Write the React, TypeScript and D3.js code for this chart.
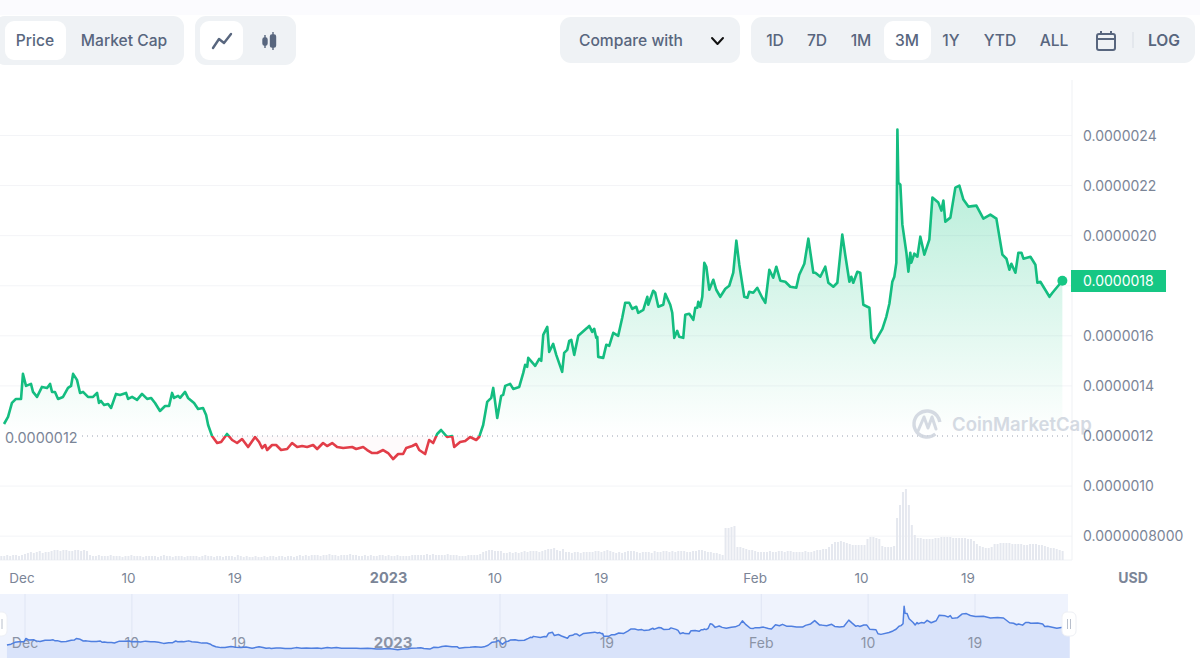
import React from "react";
import * as d3 from "d3";

// Price in units of 1e-7 USD; days counted from 1 Dec 2022
const priceDays = [
-1.52,-1.18,-0.85,-0.51,-0.08,0.08,0.34,0.76,0.93,1.27,1.69,2.12,2.37,2.54,2.79,3.05,3.47,3.89,4.15,4.32,4.65,4.91,5.16,5.58,6.01,6.35,6.51,6.68,6.94,7.28,7.53,7.95,8.29,8.8,8.97,9.31,9.73,10.15,10.58,10.91,11.25,11.67,12.1,12.44,12.69,12.86,13.2,13.37,13.79,14.04,14.55,14.89,15.31,15.57,15.74,16.07,16.5,16.84,17.34,17.77,18.19,18.61,19.12,19.71,20.05,20.3,20.56,20.73,21.15,21.49,21.91,22.42,22.84,23.27,23.69,24.11,24.62,24.96,25.46,25.8,26.23,26.65,27.16,27.92,28.26,28.85,29.19,29.61,30.03,30.54,30.96,31.39,31.81,32.23,32.49,33.0,33.33,33.59,34.09,34.43,34.77,35.11,35.44,35.95,36.38,36.55,37.05,37.48,37.9,38.41,38.66,39.0,39.34,39.68,39.85,40.19,40.52,40.69,40.86,41.28,41.54,42.05,42.39,42.55,42.72,42.81,43.4,43.74,43.91,44.08,44.42,44.58,44.92,45.18,45.68,45.85,46.11,46.28,46.45,46.7,47.04,47.8,47.97,48.22,48.39,48.56,48.65,48.73,49.15,49.41,49.66,50.0,50.42,50.76,51.01,51.35,51.61,51.95,52.11,52.54,52.88,52.96,53.38,53.55,53.81,54.23,54.4,54.82,54.99,55.16,55.41,55.58,55.92,56.09,56.43,56.77,56.94,57.11,57.19,57.36,57.53,57.7,57.87,58.12,58.46,58.71,59.05,59.48,59.81,60.15,60.41,60.66,61.08,61.34,61.5,61.84,62.18,62.6,62.86,63.2,63.53,63.79,64.13,64.55,64.97,65.48,65.73,66.16,66.5,66.92,67.09,67.51,67.93,68.19,68.61,68.95,69.37,69.63,69.97,70.13,70.3,70.64,70.89,71.15,71.66,71.83,72.08,72.76,73.09,73.35,73.6,73.77,73.94,74.03,74.11,74.28,74.45,74.79,74.96,75.12,75.21,75.46,75.72,75.97,76.31,76.73,76.99,77.49,77.75,77.92,78.08,78.51,78.93,79.27,79.61,80.03,80.71,81.3,81.89,82.4,82.91,83.25,83.5,83.67,84.01,84.26,84.52,84.69,85.28,85.7,85.87,86.12,86.89,87.14,87.98];
const priceValues = [
12.48,12.76,13.32,13.48,13.48,14.48,14.0,14.08,13.76,13.56,13.96,13.92,14.08,13.76,13.76,13.48,13.56,13.92,14.0,14.48,14.24,13.72,13.76,13.56,13.56,13.72,13.32,13.4,13.24,13.28,13.12,13.68,13.64,13.72,13.48,13.56,13.44,13.68,13.48,13.52,13.32,13.0,13.2,13.2,13.72,13.52,13.6,13.52,13.76,13.52,13.32,13.08,13.12,12.84,12.44,12.0,11.72,11.76,12.08,11.84,11.72,11.88,11.56,11.96,11.76,11.52,11.64,11.44,11.64,11.64,11.44,11.48,11.72,11.56,11.6,11.56,11.64,11.48,11.72,11.6,11.72,11.56,11.52,11.56,11.48,11.56,11.44,11.32,11.32,11.44,11.32,11.08,11.28,11.28,11.52,11.6,11.68,11.44,11.28,11.84,11.72,12.08,12.24,11.96,12.0,11.56,11.76,11.8,11.96,11.84,11.96,12.44,13.36,13.52,13.92,12.72,13.6,13.64,14.0,14.08,13.88,13.96,14.52,14.84,14.76,15.12,14.8,15.08,15.0,16.04,16.36,15.36,15.68,15.24,14.56,15.32,15.44,15.8,15.84,15.24,16.0,16.32,16.4,16.16,16.28,15.92,15.96,15.16,15.12,15.64,15.6,16.12,16.0,16.72,17.32,17.32,17.08,17.16,16.92,17.04,17.56,17.24,17.8,17.72,17.16,17.24,17.68,17.24,16.92,15.92,16.2,15.96,15.92,16.84,16.88,16.64,17.12,17.12,17.36,17.16,17.56,18.92,18.76,17.84,18.24,17.84,17.56,17.88,18.0,18.52,19.8,18.84,17.56,17.52,17.76,17.72,17.92,17.52,17.32,18.64,18.32,18.76,18.2,18.16,17.96,17.92,18.44,18.88,19.88,18.52,18.52,18.36,18.76,18.12,17.96,18.12,20.04,19.2,18.16,18.36,18.12,18.56,18.52,17.24,17.12,15.92,15.72,16.28,16.76,17.28,18.16,18.36,18.92,24.24,22.12,22.04,20.44,19.32,18.56,19.32,18.92,19.28,19.16,19.96,19.24,19.84,21.52,21.32,21.0,21.4,20.56,20.72,21.92,22.0,21.44,21.16,21.2,20.68,20.84,20.68,19.24,19.08,18.64,18.88,18.52,19.32,19.32,19.08,19.16,18.84,18.12,18.16,17.56,17.72,18.2];

// Volume bars, one per quarter day, arbitrary units
const volumeStartDay = -1.75;
const volumes = [
4,4,5,4,5,5,4,5,6,7,8,7,8,9,7,8,8,9,10,10,9,10,10,9,9,10,10,9,10,9,
5,4,4,5,4,4,4,5,4,4,4,3,4,4,5,4,4,4,3,4,4,4,4,3,4,5,4,4,3,4,
4,4,3,4,4,4,4,3,4,5,4,4,3,4,4,3,4,4,4,3,5,4,3,4,3,3,4,3,3,4,
3,4,4,3,4,4,3,4,4,3,4,5,4,5,4,5,5,5,4,5,5,6,5,5,4,5,5,5,6,5,
5,4,4,5,4,5,4,4,5,5,4,5,4,4,5,4,4,4,4,5,5,5,5,5,6,5,6,5,5,5,
5,6,5,5,5,4,4,4,5,5,5,5,6,8,9,10,10,9,9,9,7,7,8,7,8,7,8,9,8,9,
9,9,8,9,10,11,11,12,10,9,11,8,8,7,8,8,7,8,8,8,8,9,9,8,9,10,9,8,7,8,
7,8,9,9,9,8,7,8,8,8,7,9,8,8,9,9,8,9,8,9,9,9,8,8,9,9,10,10,9,8,
8,7,7,6,5,32,32,33,34,13,13,12,11,10,10,9,8,8,8,8,9,8,8,9,9,8,9,9,8,8,
8,8,9,8,8,9,10,10,11,11,13,16,18,18,19,18,17,16,15,15,15,15,15,21,23,23,22,21,14,13,
13,13,14,42,55,68,71,55,35,25,22,22,21,21,21,21,22,22,23,23,23,23,22,22,22,22,22,21,21,19,
16,14,13,12,12,13,16,16,17,17,17,17,16,16,16,16,15,15,16,16,16,15,15,14,13,12,12,11,10,9];

const yTickValues = [24, 22, 20, 18, 16, 14, 12, 10, 8];
const yTickLabels = ["0.0000024","0.0000022","0.0000020","0.0000018","0.0000016","0.0000014","0.0000012","0.0000010","0.0000008000"];
const baselineValue = 12;
const baselineLabel = "0.0000012";
const lastPriceValue = 18;
const lastPriceLabel = "0.0000018";

const xTickDays = [0, 9, 18, 31, 40, 49, 62, 71, 80];
const xTickLabels = ["Dec", "10", "19", "2023", "10", "19", "Feb", "10", "19"];
const xTickBold = ["2023"];

const periodLabels = ["1D", "7D", "1M", "3M", "1Y", "YTD", "ALL"];
const periodCenters = [775, 817, 861, 907, 951, 1000, 1054];

const FONT = "Inter, 'Noto Sans', sans-serif";
const GREEN = "#16c784";
const LINE_GREEN = "#14bd80";
const RED = "#e23d48";
const TEXT = "#58667e";
const AXIS = "#7b8597";

const dayToDate = (d: number) => new Date(Date.UTC(2022, 11, 1) + d * 86400000);

export default function App() {
  const x = d3.scaleUtc().domain([dayToDate(0), dayToDate(80)]).range([22, 968]);
  const y = d3.scaleLinear().domain([12, 24]).range([436, 135.5]);
  const vol = d3.scaleLinear().domain([0, 71]).range([560, 489]);
  const nx = d3.scaleUtc().domain([dayToDate(0), dayToDate(80)]).range([25, 975]);
  const ny = d3.scaleLinear().domain([11, 24.3]).range([650, 606]);

  const pts = priceDays.map((d, i) => ({ t: dayToDate(d), v: priceValues[i] }));
  const line = d3.line<any>().x((p) => x(p.t)).y((p) => y(p.v))(pts) as string;
  const area = d3.area<any>().x((p) => x(p.t)).y0(y(baselineValue)).y1((p) => y(p.v))(pts) as string;
  const nLine = d3.line<any>().x((p) => nx(p.t)).y((p) => ny(p.v))(pts) as string;
  const nArea = d3.area<any>().x((p) => nx(p.t)).y0(658).y1((p) => ny(p.v))(pts) as string;
  const last = pts[pts.length - 1];
  const base = y(baselineValue);

  return (
    <svg width={1200} height={663} viewBox="0 0 1200 663"
      style={{ position: "absolute", left: 0, top: 0, background: "#fff" }} fontFamily={FONT}>
      <defs>
        <linearGradient id="upFill" gradientUnits="userSpaceOnUse" x1="0" x2="0" y1="130" y2={base}>
          <stop offset="0" stopColor={GREEN} stopOpacity={0.36} />
          <stop offset="0.55" stopColor={GREEN} stopOpacity={0.16} />
          <stop offset="1" stopColor={GREEN} stopOpacity={0} />
        </linearGradient>
        <clipPath id="above"><rect x={0} y={0} width={1200} height={base} /></clipPath>
        <clipPath id="below"><rect x={0} y={base} width={1200} height={200} /></clipPath>
      </defs>

      {/* top strip */}
      <rect x={0} y={0} width={1200} height={15} fill="#fbfbfe" />

      {/* toolbar */}
      <g fontSize={15.6} fontWeight={500} fill={TEXT} textAnchor="middle">
        <rect x={-6} y={16} width={190} height={49} rx={11} fill="#eff2f5" />
        <rect x={5} y={21} width={61} height={39} rx={9} fill="#fff" />
        <text x={35} y={46}>Price</text>
        <text x={124} y={46}>Market Cap</text>

        <rect x={195} y={16} width={101} height={49} rx={11} fill="#eff2f5" />
        <rect x={200} y={21} width={43} height={39} rx={9} fill="#fff" />
        <path d="M213 48 L219 39 L224 43 L231 34" fill="none" stroke={TEXT} strokeWidth={2.4} strokeLinecap="round" strokeLinejoin="round" />
        <g fill={TEXT} stroke={TEXT} strokeWidth={1.4}>
          <line x1={265} x2={265} y1={35} y2={48} />
          <rect x={263} y={38} width={4} height={7} rx={1.5} />
          <line x1={273} x2={273} y1={32} y2={50} />
          <rect x={270.5} y={35} width={5} height={12} rx={1.5} />
        </g>

        <rect x={560} y={17} width={180} height={46} rx={11} fill="#eff2f5" />
        <text x={631} y={46}>Compare with</text>
        <path d="M712 38 L717.5 44 L723 38" fill="none" stroke="#111" strokeWidth={2} strokeLinecap="round" strokeLinejoin="round" />

        <rect x={751} y={17} width={444} height={46} rx={11} fill="#eff2f5" />
        <rect x={884} y={21} width={47} height={39} rx={9} fill="#fff" />
        {periodLabels.map((p, i) => (
          <text key={p} x={periodCenters[i]} y={46}>{p}</text>
        ))}
        <g fill="none" stroke={TEXT} strokeWidth={2}>
          <rect x={1097} y={34} width={18} height={16} rx={2} />
          <line x1={1097} x2={1115} y1={39} y2={39} />
          <line x1={1101} x2={1101} y1={31} y2={35} />
          <line x1={1111} x2={1111} y1={31} y2={35} />
        </g>
        <line x1={1133} x2={1133} y1={32} y2={48} stroke="#d8dde4" />
        <text x={1164} y={46} fontWeight={600}>LOG</text>
      </g>

      {/* grid */}
      {yTickValues.map((v) => (
        <line key={v} x1={0} x2={1072} y1={y(v)} y2={y(v)} stroke={v === baselineValue ? "none" : "#f3f4f7"} />
      ))}
      <line x1={1072} x2={1072} y1={80} y2={560} stroke="#eff1f4" />
      <line x1={0} x2={1072} y1={560} y2={560} stroke="#f0f2f5" />

      {/* volume */}
      {volumes.map((v, i) => {
        const t = dayToDate(volumeStartDay + i * 0.25);
        return <rect key={i} x={x(t) - 1} y={vol(v)} width={2} height={560 - vol(v)} fill="#e5e8ef" />;
      })}

      {/* price area and line */}
      <path d={area} fill="url(#upFill)" clipPath="url(#above)" />
      <path d={area} fill={RED} fillOpacity={0.025} clipPath="url(#below)" />
      <line x1={82} x2={1072} y1={base} y2={base} stroke="#9aa3b2" strokeWidth={1} strokeDasharray="1 4" />
      <path d={line} fill="none" stroke={LINE_GREEN} strokeWidth={2.6} strokeLinejoin="round" clipPath="url(#above)" />
      <path d={line} fill="none" stroke={RED} strokeWidth={2.6} strokeLinejoin="round" clipPath="url(#below)" />

      {/* watermark */}
      <g opacity={0.85}>
        <circle cx={927} cy={424} r={13} fill="none" stroke="#ced4de" strokeWidth={3.4} strokeDasharray="68 14" transform="rotate(50 927 424)" />
        <path d="M918 431 L924 417 L928 428 L932 417 L936 429" fill="none" stroke="#ced4de" strokeWidth={3} strokeLinejoin="round" strokeLinecap="round" />
        <text x={952} y={431} fontSize={18.5} fontWeight={600} fill="#ced4de">CoinMarketCap</text>
      </g>

      {/* y labels: the tick under the last-price tag stays hidden, as in the reference */}
      <g fontSize={14} fill={AXIS}>
        {yTickValues.map((v, i) => v === lastPriceValue ? null : (
          <text key={v} x={1083} y={y(v) + 5}>{yTickLabels[i]}</text>
        ))}
        <text x={5} y={base + 7} fontSize={14.4}>{baselineLabel}</text>
      </g>

      {/* last price */}
      <rect x={1071} y={270} width={95} height={22} fill={GREEN} />
      <text x={1083} y={286} fontSize={14} fill="#fff">{lastPriceLabel}</text>
      <circle cx={x(last.t)} cy={y(last.v)} r={5} fill={GREEN} />

      {/* x labels */}
      <g fontSize={13.5} fill={AXIS} textAnchor="middle">
        {xTickDays.map((d, i) => {
          const bold = xTickBold.includes(xTickLabels[i]);
          return (
            <text key={i} x={x(dayToDate(d))} y={583} fontWeight={bold ? 700 : 400} fontSize={bold ? 14.5 : 13.5}>{xTickLabels[i]}</text>
          );
        })}
        <text x={1133} y={583} fontSize={14} fontWeight={700}>USD</text>
      </g>

      {/* navigator */}
      <rect x={0} y={594} width={1068} height={64} fill="#eff3fd" />
      {xTickDays.map((d, i) => (
        <line key={i} x1={nx(dayToDate(d))} x2={nx(dayToDate(d))} y1={594} y2={658} stroke="#dfe5f4" />
      ))}
      <path d={nArea} fill="#d9e3fa" />
      <g fontSize={14} fill="#8a93a6" textAnchor="middle">
        {xTickDays.map((d, i) => {
          const bold = xTickBold.includes(xTickLabels[i]);
          return (
            <text key={i} x={nx(dayToDate(d))} y={648} fontWeight={bold ? 700 : 400} fontSize={bold ? 15 : 14}>{xTickLabels[i]}</text>
          );
        })}
      </g>
      <path d={nLine} fill="none" stroke="#4f7fe0" strokeWidth={1.5} strokeLinejoin="round" />

      {/* navigator handles */}
      <rect x={-6} y={612} width={13} height={24} rx={5} fill="#fff" stroke="#eef0f5" />
      <line x1={2} x2={2} y1={619} y2={629} stroke="#b8bfcc" />
      <rect x={1062} y={612} width={14} height={24} rx={5} fill="#fff" stroke="#eef0f5" />
      <line x1={1067.5} x2={1067.5} y1={619} y2={629} stroke="#b8bfcc" />
      <line x1={1070.5} x2={1070.5} y1={619} y2={629} stroke="#b8bfcc" />
    </svg>
  );
}
